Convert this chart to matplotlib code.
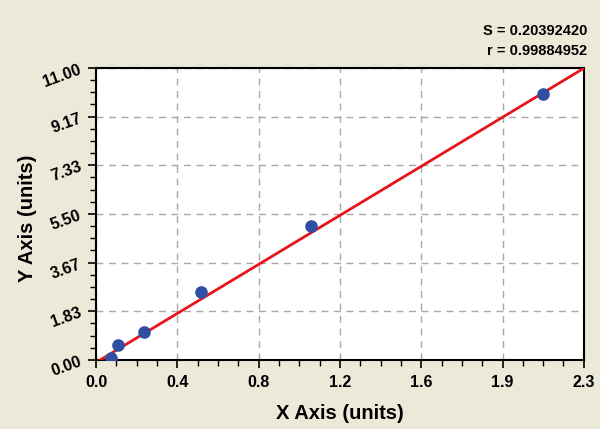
import numpy as np
import matplotlib
matplotlib.use("Agg")
from matplotlib import pyplot as plt
from matplotlib.ticker import FixedLocator, AutoMinorLocator

# standard curve points
x_pts = [0.071, 0.104, 0.226, 0.495, 1.013, 2.107]
y_pts = [0.08, 0.57, 1.05, 2.56, 5.05, 10.02]

# fit line
slope = 4.82
intercept = -0.096

x_ticks = [0.0, 2.3 / 6, 2 * 2.3 / 6, 3 * 2.3 / 6, 4 * 2.3 / 6, 5 * 2.3 / 6, 2.3]
x_labels = ["0.0", "0.4", "0.8", "1.2", "1.6", "1.9", "2.3"]
y_ticks = [0.0, 11 / 6, 2 * 11 / 6, 3 * 11 / 6, 4 * 11 / 6, 5 * 11 / 6, 11.0]
y_labels = ["0.00", "1.83", "3.67", "5.50", "7.33", "9.17", "11.00"]

stats = ["S = 0.20392420", "r = 0.99884952"]

plt.rcParams['font.family'] = ['Liberation Sans', 'DejaVu Sans']
bg = "#ECE9D8"

fig = plt.figure(figsize=(6, 4.29), dpi=100, facecolor=bg)
ax = fig.add_axes([0.16, 0.161, 0.813, 0.6805])
ax.set_facecolor("white")

ax.set_xlim(0, 2.3)
ax.set_ylim(0, 11)

ax.xaxis.set_major_locator(FixedLocator(x_ticks))
ax.yaxis.set_major_locator(FixedLocator(y_ticks))
ax.set_xticklabels(x_labels, fontsize=11.5, fontweight="bold")
ax.set_yticklabels(y_labels, fontsize=11.5, fontweight="bold", rotation=20)
ax.xaxis.set_minor_locator(AutoMinorLocator(4))
ax.yaxis.set_minor_locator(AutoMinorLocator(4))
ax.tick_params(which="major", length=6, width=1.2, color="black", direction="out")
ax.tick_params(which="minor", length=4, width=1.0, color="black", direction="out")
ax.tick_params(axis="x", pad=5)
ax.tick_params(axis="y", pad=3)

ax.grid(True, which="major", color="#A8A8A8", linestyle=(0, (5, 4)), linewidth=1.0)
ax.set_axisbelow(True)
for s in ax.spines.values():
    s.set_linewidth(1.5)
    s.set_color("black")

xl = np.array([0.0, 2.3])
ax.plot(xl, slope * xl + intercept, color="#E8141C", linewidth=2, zorder=3)
ax.scatter(x_pts, y_pts, s=65, color="#2F4FA3", marker="o", zorder=4)

ax.set_xlabel("X Axis (units)", fontsize=14.5, fontweight="bold", labelpad=10)
ax.set_ylabel("Y Axis (units)", fontsize=14.5, fontweight="bold")
ax.yaxis.set_label_coords(-0.121, 0.486)

fig.text(0.979, 0.928, stats[0], ha="right", va="center", fontsize=10.5, fontweight="bold")
fig.text(0.979, 0.881, stats[1], ha="right", va="center", fontsize=10.5, fontweight="bold")

fig.savefig("out.png", dpi=100, facecolor=bg)
